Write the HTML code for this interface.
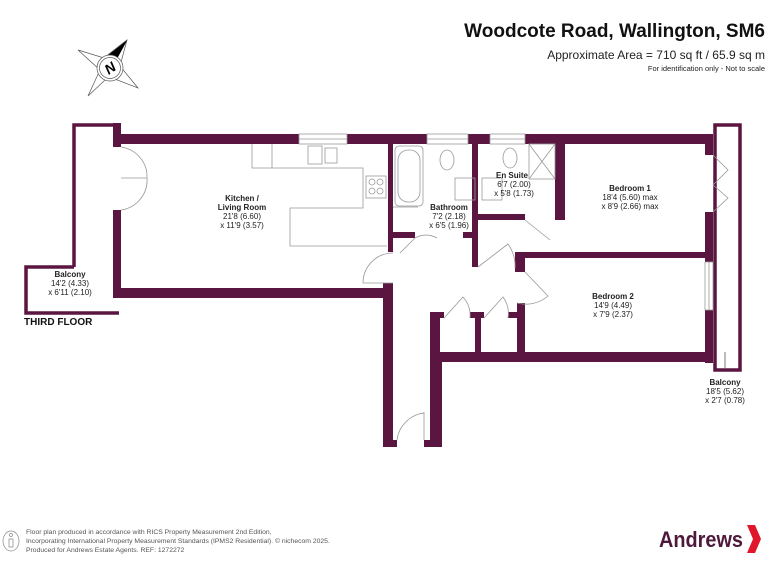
<!DOCTYPE html>
<html><head><meta charset="utf-8"><style>
html,body{margin:0;padding:0;background:#fff}
svg{display:block;font-family:"Liberation Sans",Arial,sans-serif}
</style></head><body>
<svg width="768" height="576" viewBox="0 0 768 576" xmlns="http://www.w3.org/2000/svg">
<!-- title -->
<text x="765" y="37" text-anchor="end" font-size="19" font-weight="bold" fill="#111">Woodcote Road, Wallington, SM6</text>
<text x="765" y="59" text-anchor="end" font-size="12" fill="#222">Approximate Area = 710 sq ft / 65.9 sq m</text>
<text x="765" y="71" text-anchor="end" font-size="7.5" fill="#222">For identification only - Not to scale</text>
<!-- compass -->
<g stroke="#555" stroke-width="0.7" fill="none">
<polygon points="127,40 116,60 104,58" fill="#000" stroke="#000"/>
<polygon points="127,40 120,66 88,96 100,70 78,50 104,58"/>
<polygon points="120,66 138,88 112,78"/>
<circle cx="110" cy="68" r="13" fill="#fff"/>
<circle cx="110" cy="68" r="10.5"/>
</g>
<text x="110" y="73" text-anchor="middle" font-size="14" font-weight="bold" font-style="italic" transform="rotate(-35 110 68)">N</text>

<!-- balcony outlines -->
<g fill="none" stroke="#5a1640" stroke-width="3.5">
<path d="M74,267 V125 H117"/>
<path d="M74,267 H26 V313 H119"/>
<rect x="715" y="125" width="25" height="245"/>
</g>

<g fill="#5a1640">
<!-- kitchen walls -->
<rect x="113" y="123" width="8" height="11"/>
<rect x="113" y="134" width="186" height="10"/>
<rect x="347" y="134" width="80" height="10"/>
<rect x="468" y="134" width="22" height="10"/>
<rect x="525" y="134" width="188" height="10"/>
<rect x="113" y="134" width="8" height="13"/>
<rect x="113" y="210" width="8" height="88"/>
<rect x="113" y="288" width="280" height="10"/>
<!-- kitchen/bath wall -->
<rect x="388" y="134" width="5" height="118"/>
<rect x="383" y="283" width="10" height="164"/>
<!-- bath/ensuite -->
<rect x="472" y="134" width="6" height="133"/>
<rect x="388" y="232" width="27" height="6"/>
<rect x="463" y="232" width="15" height="6"/>
<rect x="478" y="214" width="47" height="6"/>
<rect x="555" y="134" width="10" height="86"/>
<!-- right outer walls -->
<rect x="705" y="134" width="8" height="21"/>
<rect x="705" y="212" width="8" height="50"/>
<rect x="705" y="310" width="8" height="53"/>
<!-- bedroom 2 -->
<rect x="517" y="252" width="196" height="6"/>
<rect x="515" y="252" width="10" height="20"/>
<rect x="517" y="303" width="8" height="58"/>
<rect x="430" y="352" width="283" height="10"/>
<!-- cupboards -->
<rect x="430" y="312" width="14" height="6"/>
<rect x="470" y="312" width="14" height="6"/>
<rect x="508" y="312" width="10" height="6"/>
<rect x="475" y="312" width="6" height="42"/>
<rect x="430" y="312" width="10" height="135"/>
<!-- hall bottom stubs -->
<rect x="393" y="440" width="4" height="7"/>
<rect x="424" y="440" width="6" height="7"/>
<rect x="440" y="361" width="2" height="86"/>
</g>
<!-- windows / fixtures -->
<g fill="none" stroke="#999" stroke-width="0.8">
<rect x="299" y="134" width="48" height="10"/><line x1="299" y1="139" x2="347" y2="139"/>
<rect x="427" y="134" width="41" height="10"/><line x1="427" y1="139" x2="468" y2="139"/>
<rect x="490" y="134" width="35" height="10"/><line x1="490" y1="139" x2="525" y2="139"/>
<rect x="705" y="262" width="8" height="48"/><line x1="709" y1="262" x2="709" y2="310"/>
<path d="M252,144 V168 H363 V208 H290 V246 H387"/>
<line x1="272" y1="144" x2="272" y2="168"/>
<rect x="308" y="146" width="14" height="18"/><rect x="325" y="148" width="12" height="15"/>
<rect x="366" y="176" width="20" height="22"/>
<circle cx="372" cy="182" r="3"/><circle cx="380" cy="182" r="3"/><circle cx="372" cy="191" r="3"/><circle cx="380" cy="191" r="3"/>
<path d="M121,147 A30,30 0 0 1 147,178 L121,178 M121,210 A30,30 0 0 0 147,178"/>
<rect x="395" y="146" width="28" height="60" rx="4"/><rect x="398" y="150" width="22" height="52" rx="10"/>
<ellipse cx="447" cy="160" rx="7" ry="10"/><ellipse cx="510" cy="158" rx="7" ry="10"/>
<rect x="455" y="178" width="20" height="22"/><rect x="482" y="178" width="20" height="22"/>
<rect x="529" y="144" width="26" height="35"/><line x1="529" y1="144" x2="555" y2="179"/><line x1="555" y1="144" x2="529" y2="179"/>
<line x1="393" y1="207" x2="418" y2="207"/>
<path d="M415,238 L400,253 M415,238 A22,22 0 0 1 437,238"/>
<path d="M478,267 L508,244 A38,38 0 0 1 515,268"/>
<path d="M525,220 L550,240"/>
<path d="M525,272 L548,296 A34,34 0 0 1 517,303"/>
<path d="M393,253 A30,30 0 0 0 363,283 L393,283"/>
<path d="M444,318 L463,297 A28,28 0 0 1 470,318"/>
<path d="M484,318 L503,297 A28,28 0 0 1 508,318"/>
<path d="M424,412 V440 M424,413 A31,31 0 0 0 397,440"/>
<path d="M713,155 L728,170 L713,185 L728,198 L713,212"/>
</g>
<line x1="725" y1="352" x2="725" y2="368" stroke="#555" stroke-width="0.8"/>
<!-- labels -->
<g font-size="8" fill="#222" text-anchor="middle">
<text x="242" y="201" font-weight="bold">Kitchen /</text>
<text x="242" y="210" font-weight="bold">Living Room</text>
<text x="242" y="219">21'8 (6.60)</text><text x="242" y="228">x 11'9 (3.57)</text>
<text x="449" y="210" font-weight="bold">Bathroom</text>
<text x="449" y="219">7'2 (2.18)</text><text x="449" y="228">x 6'5 (1.96)</text>
<text x="512" y="178" font-weight="bold">En Suite</text>
<text x="514" y="187">6'7 (2.00)</text><text x="514" y="196">x 5'8 (1.73)</text>
<text x="630" y="191" font-weight="bold">Bedroom 1</text>
<text x="630" y="200">18'4 (5.60) max</text><text x="630" y="209">x 8'9 (2.66) max</text>
<text x="613" y="299" font-weight="bold">Bedroom 2</text>
<text x="613" y="308">14'9 (4.49)</text><text x="613" y="317">x 7'9 (2.37)</text>
<text x="70" y="277" font-weight="bold">Balcony</text>
<text x="70" y="286">14'2 (4.33)</text><text x="70" y="295">x 6'11 (2.10)</text>
<text x="725" y="385" font-weight="bold">Balcony</text>
<text x="725" y="394">18'5 (5.62)</text><text x="725" y="403">x 2'7 (0.78)</text>
</g>
<text x="24" y="325" font-size="10" font-weight="bold" fill="#111">THIRD FLOOR</text>
<!-- footer -->
<g fill="none" stroke="#888" stroke-width="0.7"><ellipse cx="11" cy="541" rx="8" ry="10"/><circle cx="11" cy="535" r="1.5"/><path d="M9,539 H13 V547 H9 Z"/></g>
<g font-size="6.8" fill="#555">
<text x="26" y="534">Floor plan produced in accordance with RICS Property Measurement 2nd Edition,</text>
<text x="26" y="543">Incorporating International Property Measurement Standards (IPMS2 Residential).   © nichecom 2025.</text>
<text x="26" y="552">Produced for Andrews Estate Agents.   REF: 1272272</text>
</g>
<text x="659" y="547" font-size="22" font-weight="bold" fill="#4e1a3c" textLength="84" lengthAdjust="spacingAndGlyphs">Andrews</text>
<polygon points="747,525 755,525 761,539 755,553 747,553 753,539" fill="#e0162b"/>
</svg>
</body></html>
